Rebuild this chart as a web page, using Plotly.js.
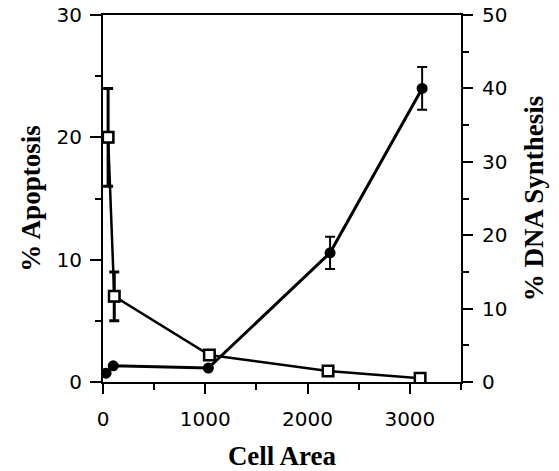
<!DOCTYPE html>
<html>
<head>
<meta charset="utf-8">
<script src="https://cdn.plot.ly/plotly-3.0.1.min.js"></script>
<style>html,body{margin:0;padding:0;background:#fff}#chart{width:559px;height:471px}</style>
</head>
<body>
<div id="chart"></div>
<script>
// % Apoptosis (open squares, left axis)
const apopArea = [50, 110, 1040, 2200, 3100];
const apopPct  = [20, 7, 2.2, 0.9, 0.3];
const apopErr  = [4, 2, 0, 0, 0];

// % DNA Synthesis (filled circles, right axis)
const dnaArea = [30, 100, 1030, 2220, 3120];
const dnaPct  = [1.2, 2.2, 1.9, 17.6, 40];
const dnaErr  = [0, 0, 0, 2.2, 2.9];

const xTicks = [0, 1000, 2000, 3000];
const leftTicks = [0, 10, 20, 30];
const rightTicks = [0, 10, 20, 30, 40, 50];

const tickFont = {family: 'DejaVu Sans, Arial, sans-serif', size: 20, color: '#000'};
const titleFont = {family: 'Liberation Serif, Times New Roman, serif', size: 27, color: '#000', weight: 'bold'};

const traces = [
  {
    x: dnaArea, y: dnaPct, yaxis: 'y2', type: 'scatter', mode: 'lines+markers',
    line: {color: '#000', width: 3},
    marker: {symbol: 'circle', size: 11, color: '#000'},
    error_y: {type: 'data', array: dnaErr, visible: true, color: '#000', thickness: 2, width: 5},
    showlegend: false
  },
  {
    x: apopArea, y: apopPct, yaxis: 'y', type: 'scatter', mode: 'lines+markers',
    line: {color: '#000', width: 2.5},
    marker: {symbol: 'square-open', size: 11, color: '#000', line: {width: 2, color: '#000'}},
    error_y: {type: 'data', array: apopErr, visible: true, color: '#000', thickness: 3, width: 5},
    showlegend: false
  },
  {
    x: apopArea, y: apopPct, yaxis: 'y', type: 'scatter', mode: 'markers',
    marker: {symbol: 'square', size: 10, color: '#fff', line: {width: 2, color: '#000'}},
    hoverinfo: 'skip', showlegend: false
  }
];

const layout = {
  width: 559, height: 471,
  margin: {l: 103, r: 98, t: 15, b: 89},
  paper_bgcolor: '#fff', plot_bgcolor: '#fff',
  showlegend: false,
  xaxis: {
    range: [0, 3500], tickvals: xTicks, ticktext: xTicks.map(String),
    ticks: 'outside', ticklen: 10, tickwidth: 2, tickcolor: '#000',
    minor: {dtick: 500, tick0: 0, ticks: 'outside', ticklen: 6, tickwidth: 2, tickcolor: '#000'},
    showline: true, linecolor: '#000', linewidth: 2, mirror: true,
    showgrid: false, zeroline: false,
    tickfont: tickFont, ticklabelstandoff: 8,
    title: {text: 'Cell Area', font: titleFont, standoff: 16}
  },
  yaxis: {
    range: [0, 30], tickvals: leftTicks, ticktext: leftTicks.map(String),
    ticks: 'outside', ticklen: 11, tickwidth: 2, tickcolor: '#000',
    minor: {dtick: 5, tick0: 0, ticks: 'outside', ticklen: 6, tickwidth: 2, tickcolor: '#000'},
    showline: true, linecolor: '#000', linewidth: 2,
    showgrid: false, zeroline: false,
    tickfont: tickFont, ticklabelstandoff: 4,
    title: {text: '% Apoptosis', font: titleFont, standoff: 8}
  },
  yaxis2: {
    range: [0, 50], tickvals: rightTicks, ticktext: rightTicks.map(String),
    overlaying: 'y', side: 'right',
    ticks: 'outside', ticklen: 10, tickwidth: 2, tickcolor: '#000',
    minor: {dtick: 5, tick0: 0, ticks: 'outside', ticklen: 6, tickwidth: 2, tickcolor: '#000'},
    showline: true, linecolor: '#000', linewidth: 2,
    showgrid: false, zeroline: false,
    tickfont: tickFont, ticklabelstandoff: 5,
    title: {text: '% DNA Synthesis', font: titleFont, standoff: 18}
  }
};

Plotly.newPlot('chart', traces, layout, {displayModeBar: false, staticPlot: true});
</script>
</body>
</html>
